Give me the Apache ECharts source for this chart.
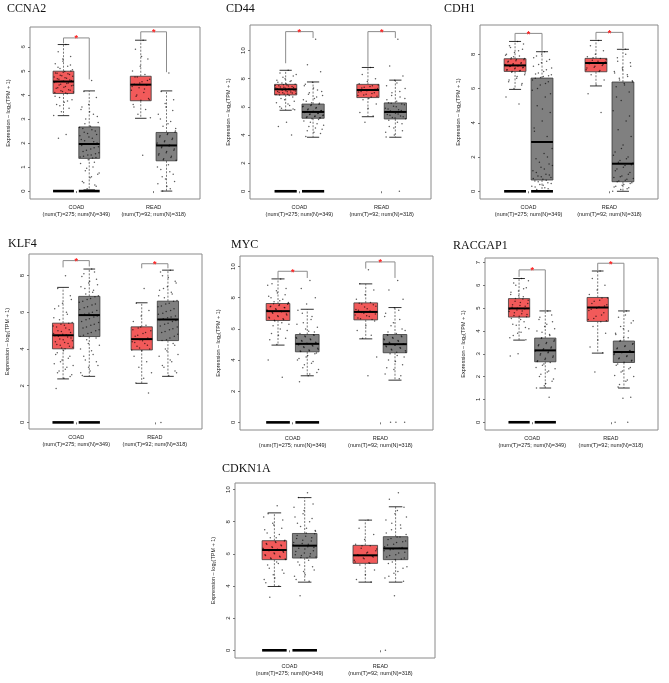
<!DOCTYPE html>
<html><head><meta charset="utf-8">
<script src="https://cdn.jsdelivr.net/npm/echarts@6/dist/echarts.min.js"></script>
<style>html,body{margin:0;padding:0;background:#fff}#c{width:669px;height:683px}</style>
</head><body><div id="c"></div><script>
// ---------------- DATA ----------------
const genes = ['CCNA2','CD44','CDH1','KLF4','MYC','RACGAP1','CDKN1A'];
const categories = ['COAD','READ'];
const sampleLabels = ['(num(T)=275; num(N)=349)','(num(T)=92; num(N)=318)'];
const yAxisName = 'Expression \u2013 log\u2082(TPM + 1)';
// groups: COAD-Tumor, COAD-Normal, READ-Tumor, READ-Normal
// box stats: [lower whisker, Q1, median, Q3, upper whisker]
const ccna2Ticks = [0,1,2,3,4,5,6];
const ccna2Stats = [[3.14,4.06,4.56,4.99,6.1],[0.05,1.36,1.96,2.67,4.17],[3.03,3.76,4.43,4.78,6.28],[0,1.26,1.9,2.44,4.17]];
const ccna2Points = [
 [6.1,5.8,5.6,5.4,5.3,5.2,5.1,5.05,4.98,4.9,4.85,4.8,4.75,4.7,4.65,4.6,4.58,4.55,4.5,4.45,4.4,4.35,4.3,4.2,4.15,4.1,4.05,3.9,3.8,3.7,3.6,3.45,3.3,3.15,2.35,2.2,
  5.0,4.95,4.92,4.88,4.82,4.78,4.72,4.68,4.62,4.57,4.52,4.48,4.42,4.38,4.32,4.28,4.22,4.18,4.12,4.08,5.15,5.25,5.5,3.95,3.75,3.55],
 [4.6,4.15,3.9,3.6,3.4,3.2,3.0,2.85,2.7,2.6,2.5,2.4,2.3,2.2,2.1,2.0,1.97,1.9,1.8,1.7,1.6,1.5,1.45,1.4,1.3,1.15,1.0,0.85,0.7,0.55,0.4,0.25,0.1,
  2.65,2.55,2.45,2.35,2.25,2.15,2.05,1.95,1.85,1.75,1.65,1.55,1.5,1.42,1.38,2.8,3.1,3.3,3.5,1.2,0.95,0.75,0.6,0.35,0.2],
 [6.28,5.9,5.5,5.2,5.0,4.85,4.75,4.65,4.55,4.45,4.4,4.3,4.2,4.1,3.95,3.85,3.78,3.6,3.4,3.2,3.05,1.49,
  4.75,4.6,4.5,4.35,4.25,4.0,3.8,5.6,3.5],
 [4.92,4.15,3.8,3.5,3.2,2.9,2.7,2.5,2.4,2.3,2.2,2.1,2.0,1.92,1.85,1.75,1.65,1.55,1.45,1.35,1.28,1.1,0.9,0.7,0.5,0.3,0.1,0.0,
  2.45,2.35,2.25,2.15,2.05,1.95,1.88,1.8,1.7,1.6,1.5,1.4,1.3,2.6,2.8,3.0,3.35,3.65,1.0,0.8,0.6,0.4,0.2]];
const ccna2Bracket = [[6.375,6.15,4.65],[6.63,6.3,4.95]];

const cd44Ticks = [0,2,4,6,8,10];
const cd44Stats = [[5.76,6.85,7.25,7.6,8.6],[3.84,5.19,5.64,6.2,7.77],[5.3,6.66,7.2,7.6,8.8],[3.84,5.14,5.64,6.28,7.9]];
const cd44Points = [
 [8.6,8.4,8.2,8.0,7.9,7.8,7.7,7.6,7.55,7.5,7.45,7.4,7.35,7.3,7.25,7.2,7.15,7.1,7.05,7.0,6.95,6.9,6.85,6.7,6.5,6.3,6.1,5.9,5.8,4.9,4.6,4.0,
  7.58,7.52,7.48,7.42,7.38,7.32,7.28,7.22,7.18,7.12,7.08,7.02,6.98,6.92,6.88,6.8,6.6,6.4,7.65,7.75,7.85,8.1,8.3,6.2,6.0,5.85],
 [10.8,9.0,8.5,7.75,7.5,7.2,7.0,6.8,6.6,6.4,6.25,6.15,6.05,5.95,5.85,5.75,5.68,5.62,5.55,5.5,5.42,5.35,5.3,5.22,5.15,5.0,4.8,4.6,4.4,4.2,3.9,
  6.18,6.1,6.0,5.9,5.8,5.72,5.66,5.6,5.52,5.45,5.38,5.32,5.25,5.2,6.3,6.5,6.7,6.9,7.1,7.35,7.6,5.1,4.9,4.7,4.5,4.3,4.1],
 [8.8,8.3,8.0,7.8,7.65,7.5,7.4,7.3,7.2,7.1,7.0,6.9,6.8,6.7,6.5,6.2,5.9,5.6,5.35,4.9,
  7.55,7.45,7.35,7.25,7.15,7.05,6.95,6.85,6.75,6.6],
 [10.8,8.9,8.2,7.9,7.5,7.1,6.8,6.6,6.4,6.3,6.2,6.05,5.9,5.8,5.7,5.64,5.55,5.45,5.35,5.25,5.15,4.9,4.6,4.3,4.0,3.85,0,
  6.25,6.15,6.0,5.85,5.75,5.66,5.6,5.5,5.4,5.3,5.2,6.5,6.7,7.0,7.3,7.7,5.05,4.8,4.5,4.2]];
const cd44Bracket = [[11.35,9.1,10.9],[11.35,8.85,10.9]];

const cdh1Ticks = [0,2,4,6,8];
const cdh1Stats = [[5.95,7.0,7.35,7.74,8.75],[0,0.66,2.88,6.61,8.15],[6.15,6.98,7.49,7.76,8.81],[0,0.56,1.61,6.38,8.29]];
const cdh1Points = [
 [8.75,8.5,8.3,8.1,8.0,7.9,7.8,7.75,7.7,7.6,7.5,7.45,7.4,7.35,7.3,7.25,7.2,7.1,7.05,7.0,6.9,6.7,6.5,6.3,6.0,5.5,5.1,
  7.72,7.68,7.62,7.55,7.48,7.42,7.38,7.32,7.28,7.22,7.15,7.08,7.02,6.95,6.8,6.6,6.4,6.2,7.85,7.95,8.2,8.4,8.6],
 [8.15,7.9,7.7,7.5,7.3,7.1,6.9,6.8,6.7,6.6,6.4,6.2,5.9,5.5,5.0,4.6,4.1,3.7,3.2,2.9,2.5,2.2,1.9,1.6,1.4,1.2,1.0,0.9,0.8,0.7,0.6,0.5,0.4,0.3,0.2,0.1,0.05,
  8.0,7.8,7.6,7.4,7.2,7.0,6.85,6.75,6.65,6.5,6.3,6.0,5.7,4.8,3.5,2.0,1.7,1.5,1.3,1.1,0.95,0.85,0.75,0.65,0.55,0.45,0.35,0.25,0.15],
 [8.81,8.5,8.2,8.0,7.85,7.75,7.65,7.55,7.5,7.45,7.35,7.25,7.1,7.0,6.8,6.5,6.2,5.7,4.6,
  7.8,7.7,7.6,7.52,7.4,7.3,7.2,7.05],
 [8.29,7.8,7.5,7.2,7.0,6.8,6.6,6.45,6.3,6.1,5.8,5.3,4.7,4.1,3.6,3.2,2.7,2.3,2.0,1.8,1.65,1.5,1.3,1.1,0.9,0.8,0.7,0.6,0.5,0.4,0.3,0.2,0.1,0.0,
  8.0,7.6,7.3,7.1,6.9,6.7,6.5,6.4,6.2,5.5,4.4,2.5,2.1,1.9,1.7,1.55,1.4,1.2,1.0,0.85,0.75,0.65,0.55,0.45,0.35,0.25,0.15]];
const cdh1Bracket = [[9.22,8.78,8.2],[9.28,8.85,8.35]];

const klf4Ticks = [0,2,4,6,8];
const klf4Stats = [[2.37,4.01,4.75,5.41,7.36],[2.51,4.68,5.85,6.87,8.36],[2.13,3.95,4.54,5.21,6.52],[2.51,4.46,5.61,6.61,8.3]];
const klf4Points = [
 [8.0,7.3,6.9,6.5,6.2,5.9,5.6,5.45,5.3,5.2,5.05,4.95,4.85,4.78,4.7,4.6,4.5,4.4,4.3,4.2,4.1,4.02,3.8,3.6,3.4,3.2,3.0,2.8,2.6,2.4,1.85,
  5.4,5.35,5.25,5.15,5.0,4.9,4.8,4.72,4.65,4.55,4.45,4.35,4.25,4.15,4.05,5.7,6.0,6.35,6.7,3.9,3.7,3.5,3.3,3.1,2.9,2.7,2.5],
 [8.36,8.1,7.8,7.6,7.4,7.2,7.0,6.9,6.75,6.6,6.45,6.3,6.15,6.0,5.9,5.8,5.65,5.5,5.35,5.2,5.05,4.9,4.75,4.6,4.3,4.0,3.7,3.4,3.1,2.8,2.55,
  6.85,6.7,6.55,6.4,6.25,6.1,5.95,5.85,5.75,5.6,5.45,5.3,5.15,5.0,4.85,4.7,7.1,7.3,7.5,7.7,7.95,8.2,4.5,4.2,3.9,3.6,3.3,3.0,2.7],
 [7.3,6.5,6.1,5.8,5.5,5.3,5.15,5.0,4.85,4.7,4.6,4.5,4.4,4.3,4.15,4.0,3.9,3.6,3.3,3.0,2.7,2.4,2.15,1.6,
  5.2,5.05,4.9,4.75,4.55,4.45,4.35,4.2,4.05,3.95],
 [8.3,8.0,7.7,7.4,7.2,7.0,6.8,6.65,6.5,6.35,6.2,6.05,5.9,5.75,5.65,5.55,5.4,5.25,5.1,4.95,4.8,4.6,4.47,4.2,3.9,3.6,3.3,3.0,2.7,2.55,0,
  6.6,6.45,6.3,6.1,5.95,5.8,5.7,5.6,5.5,5.35,5.2,5.05,4.9,4.7,4.5,6.9,7.1,7.3,7.6,7.9,8.2,4.3,4.0,3.7,3.4,3.1,2.8]];
const klf4Bracket = [[8.82,8.45,8.5],[8.65,8.4,8.4]];

const mycTicks = [0,2,4,6,8,10];
const mycStats = [[4.96,6.54,7.14,7.63,9.21],[2.99,4.53,5.04,5.64,7.26],[5.36,6.58,7.09,7.67,8.89],[2.71,4.47,5.02,5.64,7.37]];
const mycPoints = [
 [9.2,8.9,8.6,8.3,8.1,7.9,7.75,7.65,7.55,7.45,7.35,7.25,7.18,7.1,7.0,6.9,6.8,6.7,6.6,6.5,6.3,6.0,5.7,5.4,5.0,4.0,2.9,
  7.62,7.58,7.5,7.42,7.38,7.3,7.22,7.15,7.05,6.95,6.85,6.75,6.65,6.55,7.7,7.8,8.0,8.2,8.45,8.8,6.4,6.2,5.9,5.6,5.3],
 [9.1,8.6,8.0,7.6,7.2,6.8,6.4,6.1,5.85,5.7,5.6,5.5,5.4,5.3,5.2,5.1,5.05,4.98,4.9,4.8,4.7,4.6,4.55,4.4,4.2,4.0,3.8,3.5,3.2,3.0,2.6,
  5.62,5.55,5.45,5.35,5.25,5.15,5.08,5.0,4.95,4.85,4.75,4.65,4.58,5.8,6.0,6.3,6.6,7.0,4.45,4.3,4.1,3.9,3.7,3.4,3.1],
 [9.8,8.9,8.5,8.2,7.9,7.7,7.6,7.45,7.3,7.2,7.1,7.0,6.9,6.8,6.65,6.5,6.2,5.9,5.6,5.4,4.2,3.0,
  7.65,7.55,7.4,7.25,7.15,7.05,6.95,6.85,6.7,6.6],
 [9.1,8.5,7.9,7.35,7.0,6.6,6.2,5.9,5.7,5.6,5.5,5.4,5.3,5.2,5.1,5.02,4.95,4.85,4.75,4.65,4.5,4.3,4.0,3.7,3.4,3.1,2.8,0,0,0,
  5.62,5.55,5.45,5.35,5.25,5.15,5.05,4.98,4.9,4.8,4.7,4.6,4.5,5.8,6.0,6.4,6.8,7.2,4.4,4.2,3.9,3.5,3.0]];
const mycBracket = [[9.7,9.27,9.27],[10.3,9.87,9.27]];

const racgap1Ticks = [0,1,2,3,4,5,6,7];
const racgap1Stats = [[3.6,4.61,4.99,5.42,6.3],[1.5,2.65,3.15,3.69,4.88],[3.03,4.42,5.03,5.47,6.63],[1.5,2.62,3.08,3.56,4.88]];
const racgap1Points = [
 [6.3,6.1,5.9,5.75,5.6,5.5,5.42,5.35,5.25,5.15,5.08,5.0,4.95,4.88,4.8,4.72,4.65,4.55,4.4,4.25,4.1,3.95,3.8,3.62,3.0,2.9,
  5.4,5.3,5.2,5.12,5.04,4.97,4.92,4.85,4.76,4.68,4.62,5.55,5.7,5.85,6.0,6.2,4.5,4.3,4.15,3.9,3.7],
 [4.88,4.6,4.4,4.2,4.0,3.85,3.7,3.6,3.5,3.4,3.3,3.22,3.15,3.08,3.0,2.9,2.8,2.7,2.62,2.5,2.35,2.2,2.0,1.8,1.6,1.5,1.1,
  3.68,3.55,3.45,3.35,3.25,3.18,3.12,3.05,2.95,2.85,2.75,2.66,3.8,3.95,4.1,4.3,4.5,4.7,2.55,2.4,2.25,2.1,1.9,1.7],
 [6.63,6.3,6.0,5.8,5.6,5.45,5.3,5.15,5.05,4.95,4.8,4.65,4.5,4.4,4.2,3.9,3.6,3.3,3.05,2.2,
  5.45,5.35,5.2,5.1,5.0,4.9,4.7,4.55,4.45],
 [4.88,4.6,4.35,4.1,3.9,3.7,3.58,3.45,3.35,3.25,3.15,3.08,3.0,2.92,2.82,2.72,2.63,2.5,2.35,2.2,2.0,1.8,1.55,1.1,1.05,0,0,
  3.55,3.42,3.32,3.22,3.12,3.05,2.97,2.88,2.78,2.68,3.7,3.85,4.0,4.2,4.45,4.7,2.55,2.4,2.25,2.05,1.85,1.65]];
const racgap1Bracket = [[6.68,6.37,4.92],[6.97,6.66,4.92]];

const cdkn1aTicks = [0,2,4,6,8,10];
const cdkn1aStats = [[3.97,5.64,6.24,6.82,8.55],[4.24,5.74,6.51,7.27,9.5],[4.24,5.41,5.91,6.53,8.1],[4.24,5.64,6.34,7.07,8.93]];
const cdkn1aPoints = [
 [9.0,8.5,8.1,7.8,7.5,7.2,7.0,6.85,6.7,6.6,6.5,6.4,6.3,6.25,6.2,6.1,6.0,5.9,5.8,5.7,5.65,5.5,5.3,5.0,4.7,4.4,4.0,3.3,
  6.8,6.75,6.65,6.55,6.45,6.35,6.28,6.22,6.15,6.05,5.95,5.85,5.75,5.68,7.0,7.3,7.6,7.9,8.3,5.4,5.1,4.8,4.5,4.2],
 [9.8,9.5,9.1,8.7,8.3,8.0,7.7,7.45,7.3,7.15,7.0,6.85,6.7,6.6,6.5,6.4,6.3,6.15,6.0,5.9,5.8,5.75,5.5,5.2,4.9,4.6,4.3,3.4,
  7.25,7.1,6.95,6.8,6.65,6.55,6.45,6.35,6.2,6.05,5.95,5.85,5.78,7.4,7.6,7.9,8.2,8.5,8.9,5.6,5.3,5.0,4.7,4.4],
 [8.1,7.6,7.2,6.9,6.6,6.5,6.35,6.2,6.05,5.95,5.85,5.75,5.6,5.45,5.3,5.0,4.7,4.4,4.25,
  6.5,6.3,6.1,5.9,5.8,5.7,5.5,5.42],
 [9.8,9.4,8.9,8.5,8.1,7.8,7.5,7.2,7.05,6.9,6.75,6.6,6.45,6.35,6.25,6.1,5.95,5.8,5.68,5.5,5.2,4.9,4.6,4.3,3.4,0,
  7.05,6.95,6.8,6.7,6.55,6.4,6.3,6.2,6.05,5.9,5.75,5.65,7.3,7.6,7.9,8.3,8.7,5.4,5.1,4.8,4.5]];
const cdkn1aBracket = null;

// groups with a dense cluster of samples at exactly 0 (drawn as a solid bar)
const zeroClusterGroups = [0,1];

// ---------------- LAYOUT ----------------
const groupPos = [1-1/6, 1+1/6, 2-1/6, 2+1/6];
const BOX_W = 0.27, JIT_W = 0.26;
const panels = [
 {gene:genes[0], stats:ccna2Stats, pts:ccna2Points, br:ccna2Bracket, ticks:ccna2Ticks, yMin:-0.33, yMax:6.83, g:{left:30,top:27,width:170,height:172}, t:[7,3]},
 {gene:genes[1], stats:cd44Stats, pts:cd44Points, br:cd44Bracket, ticks:cd44Ticks, yMin:-0.55, yMax:11.82, g:{left:250,top:25,width:181,height:174}, t:[226,3]},
 {gene:genes[2], stats:cdh1Stats, pts:cdh1Points, br:cdh1Bracket, ticks:cdh1Ticks, yMin:-0.45, yMax:9.71, g:{left:480,top:25,width:178,height:174}, t:[444,3]},
 {gene:genes[3], stats:klf4Stats, pts:klf4Points, br:klf4Bracket, ticks:klf4Ticks, yMin:-0.36, yMax:9.18, g:{left:29,top:254,width:173,height:175}, t:[8,238]},
 {gene:genes[4], stats:mycStats, pts:mycPoints, br:mycBracket, ticks:mycTicks, yMin:-0.49, yMax:10.68, g:{left:240,top:256,width:193,height:174}, t:[231,239]},
 {gene:genes[5], stats:racgap1Stats, pts:racgap1Points, br:racgap1Bracket, ticks:racgap1Ticks, yMin:-0.34, yMax:7.2, g:{left:485,top:258,width:173,height:172}, t:[453,240]},
 {gene:genes[6], stats:cdkn1aStats, pts:cdkn1aPoints, br:cdkn1aBracket, ticks:cdkn1aTicks, yMin:-0.48, yMax:10.41, g:{left:235,top:483,width:200,height:175}, t:[222,463]}
];

const SANS = 'Liberation Sans, Arial, sans-serif';
const option = {animation:false, backgroundColor:'#fff', title:[], grid:[], xAxis:[], yAxis:[], series:[]};

function boxRender(params, api){
  const x = api.value(0);
  const hw = api.size([BOX_W/2, 0])[0];
  const cw = hw*0.55;
  const pLo = api.coord([x, api.value(1)]), pQ1 = api.coord([x, api.value(2)]);
  const pQ3 = api.coord([x, api.value(4)]), pHi = api.coord([x, api.value(5)]);
  const cx = pLo[0];
  const fill = api.value(6) === 0 ? '#F25A5A' : '#808080';
  const dash = {stroke:'#555', lineWidth:0.8, lineDash:[2,1.5]};
  return {type:'group', children:[
    {type:'line', shape:{x1:cx,y1:pQ3[1],x2:cx,y2:pHi[1]}, style:dash},
    {type:'line', shape:{x1:cx,y1:pQ1[1],x2:cx,y2:pLo[1]}, style:dash},
    {type:'line', shape:{x1:cx-cw,y1:pHi[1],x2:cx+cw,y2:pHi[1]}, style:{stroke:'#333',lineWidth:1}},
    {type:'line', shape:{x1:cx-cw,y1:pLo[1],x2:cx+cw,y2:pLo[1]}, style:{stroke:'#333',lineWidth:1}},
    {type:'rect', shape:{x:cx-hw, y:pQ3[1], width:2*hw, height:pQ1[1]-pQ3[1]}, style:{fill:fill, stroke:'#3a3a3a', lineWidth:0.8}}
  ]};
}
function medianRender(params, api){
  const x = api.value(0);
  const hw = api.size([BOX_W/2, 0])[0];
  const p = api.coord([x, api.value(1)]);
  return {type:'line', shape:{x1:p[0]-hw,y1:p[1],x2:p[0]+hw,y2:p[1]}, style:{stroke:'#000',lineWidth:2}};
}
function zeroRender(params, api){
  const x = api.value(0);
  const hw = api.size([BOX_W/2, 0])[0];
  const p = api.coord([x, api.value(1)]);
  return {type:'line', shape:{x1:p[0]-hw,y1:p[1],x2:p[0]+hw,y2:p[1]}, style:{stroke:'#000',lineWidth:2.6}};
}
function bracketRender(params, api){
  const xl = api.value(0), xr = api.value(1), top = api.value(2), lb = api.value(3), rb = api.value(4);
  const a = api.coord([xl, lb]), b = api.coord([xl, top]), c = api.coord([xr, top]), d = api.coord([xr, rb]);
  return {type:'group', children:[
    {type:'polyline', shape:{points:[a,b,c,d]}, style:{stroke:'#8c8c8c', lineWidth:1, fill:null}},
    {type:'text', x:(b[0]+c[0])/2, y:b[1]+1, style:{text:'*', fill:'#ff2020', font:'bold 9px '+SANS, align:'center', verticalAlign:'middle'}}
  ]};
}

panels.forEach((p, k) => {
  option.title.push({text:p.gene, left:p.t[0], top:p.t[1], padding:0,
    textStyle:{fontFamily:'Liberation Serif, Times New Roman, serif', fontSize:12, fontWeight:'normal', color:'#111'}});
  option.grid.push(Object.assign({show:true, borderColor:'#8a8a8a', borderWidth:1, backgroundColor:'transparent'}, p.g));
  option.xAxis.push({type:'value', gridIndex:k, min:0.4, max:2.6,
    axisLine:{show:false}, splitLine:{show:false},
    axisTick:{show:true, customValues:[1,2], length:2, lineStyle:{color:'#555', width:0.8}},
    axisLabel:{show:true, customValues:[1,2], margin:5, fontSize:5.5, lineHeight:7, fontFamily:SANS, color:'#222',
      formatter:v => { const i = Math.round(v)-1; return categories[i] + '\n' + sampleLabels[i]; }}});
  option.yAxis.push({type:'value', gridIndex:k, min:p.yMin, max:p.yMax,
    name:yAxisName, nameLocation:'middle', nameRotate:90, nameGap:19,
    nameTextStyle:{fontSize:5.5, fontFamily:SANS, color:'#222'},
    axisLine:{show:false}, splitLine:{show:false},
    axisTick:{show:true, customValues:p.ticks, length:2, lineStyle:{color:'#555', width:0.8}},
    axisLabel:{show:true, customValues:p.ticks, rotate:90, margin:4, fontSize:6, fontFamily:SANS, color:'#222'}});
  const boxData = p.stats.map((s, g) => [groupPos[g], s[0], s[1], s[2], s[3], s[4], g % 2]);
  option.series.push({type:'custom', xAxisIndex:k, yAxisIndex:k, renderItem:boxRender, data:boxData, z:2, silent:true});
  const zeroData = [];
  zeroClusterGroups.forEach(g => zeroData.push([groupPos[g], 0]));
  option.series.push({type:'custom', xAxisIndex:k, yAxisIndex:k, renderItem:zeroRender, data:zeroData, z:3, silent:true});
  const ptData = [];
  p.pts.forEach((arr, g) => arr.forEach((v, i) => {
    const jit = (((i + 1) * 0.6180339887) % 1) - 0.5;
    ptData.push([groupPos[g] + jit * JIT_W, v]);
  }));
  option.series.push({type:'scatter', xAxisIndex:k, yAxisIndex:k, data:ptData, symbolSize:1.5,
    itemStyle:{color:'rgba(0,0,0,0.8)'}, z:4, silent:true});
  option.series.push({type:'custom', xAxisIndex:k, yAxisIndex:k, renderItem:medianRender,
    data:p.stats.map((s, g) => [groupPos[g], s[2]]), z:5, silent:true});
  if (p.br) {
    const brData = p.br.map((b, c) => [groupPos[2*c], groupPos[2*c+1], b[0], b[1], b[2]]);
    option.series.push({type:'custom', xAxisIndex:k, yAxisIndex:k, renderItem:bracketRender, data:brData, z:6, silent:true});
  }
});

const chart = echarts.init(document.getElementById('c'), null, {renderer:'canvas'});
chart.setOption(option);
</script></body></html>
